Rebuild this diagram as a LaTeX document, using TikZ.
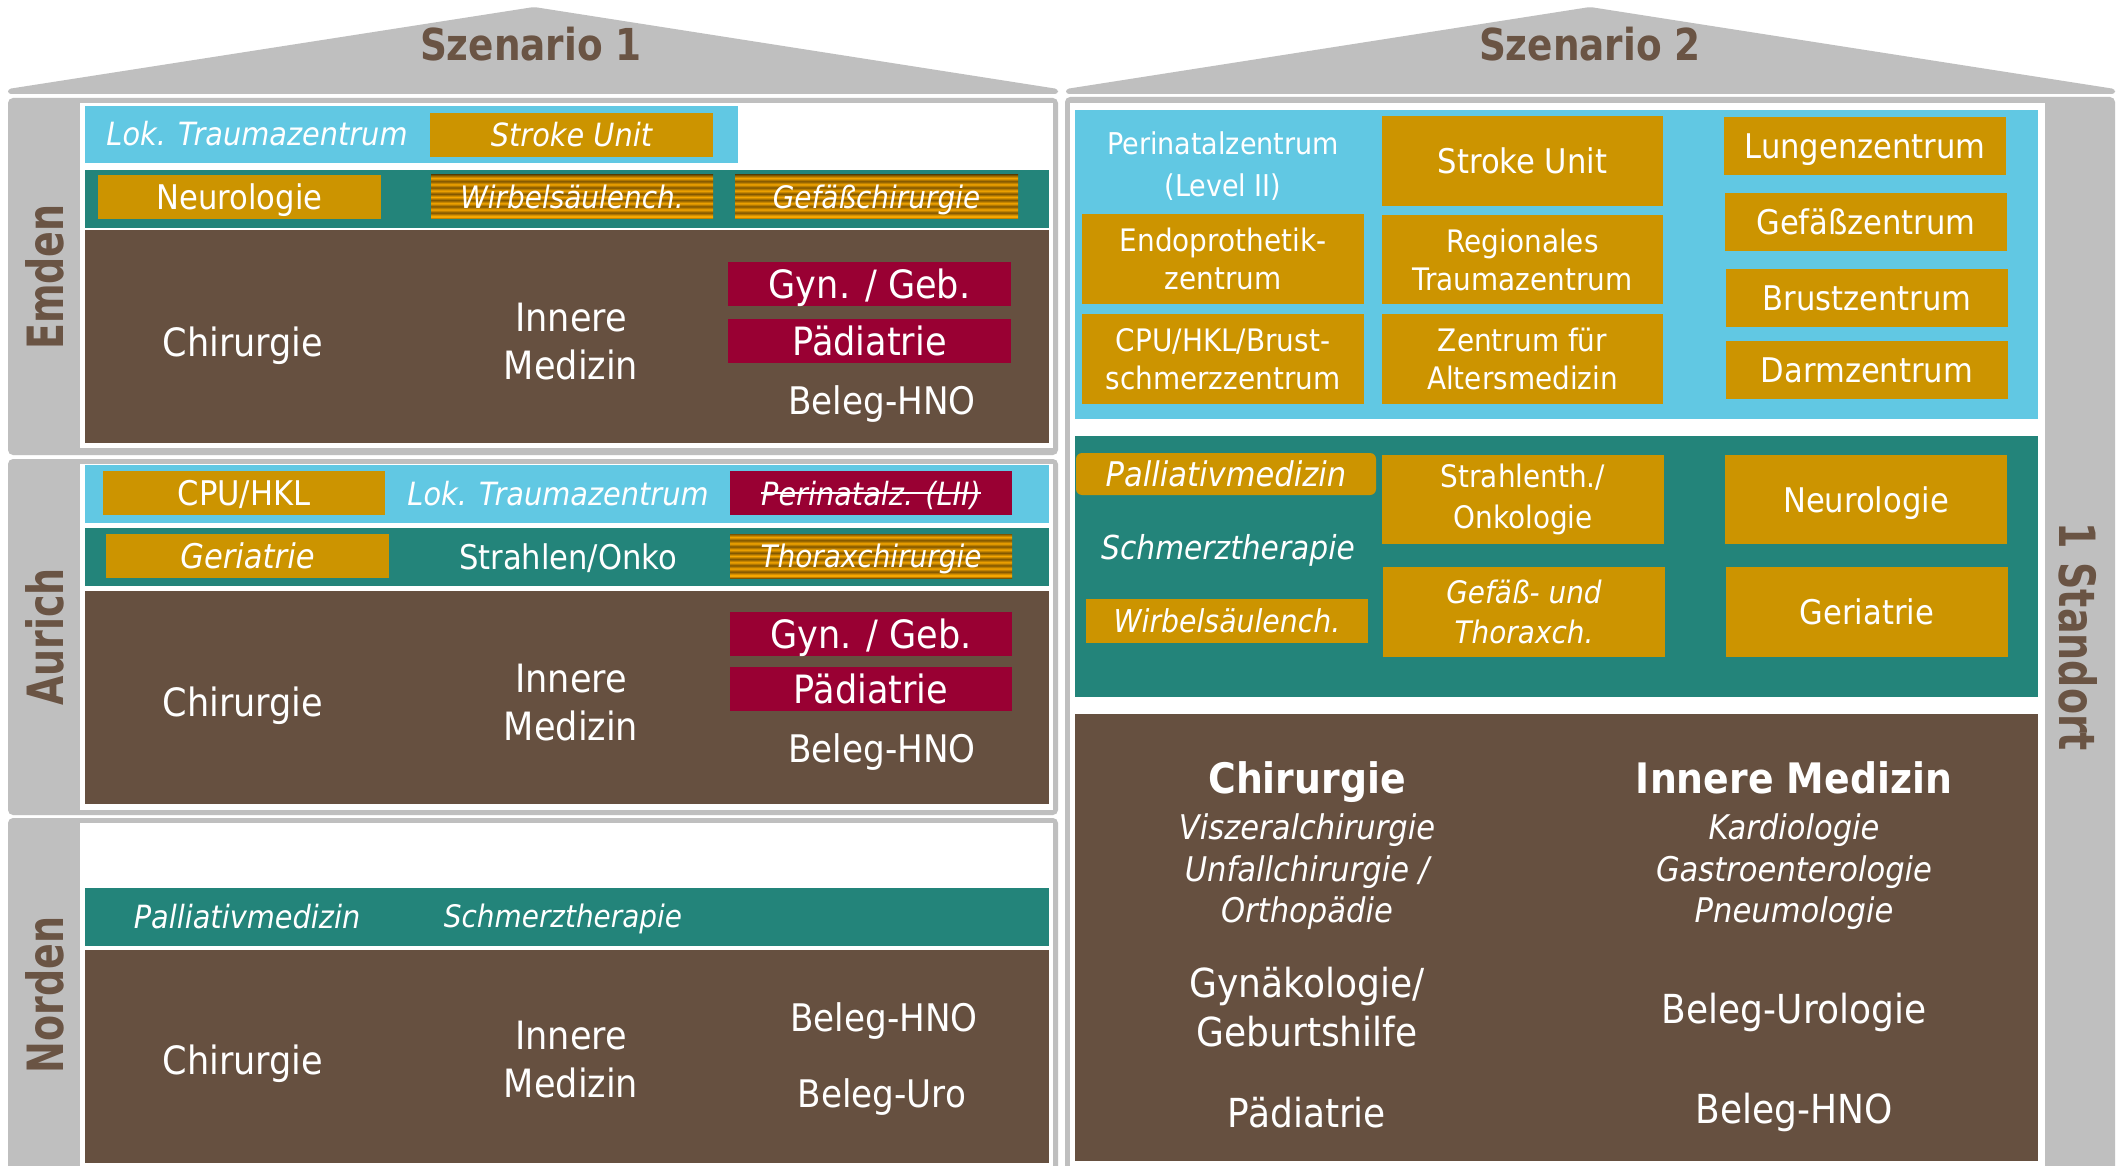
\documentclass[tikz,border=0pt]{standalone}
\usepackage{fontspec}
\setmainfont{DejaVu Sans}[FakeStretch=0.9]
\newfontfamily\lblfont{DejaVu Sans}[FakeStretch=0.76]
\newfontfamily\ttlfont{DejaVu Sans}[FakeStretch=0.85]
\definecolor{cgray}{RGB}{191,191,191}
\definecolor{ccyan}{RGB}{97,200,227}
\definecolor{cteal}{RGB}{35,132,122}
\definecolor{cbrown}{RGB}{102,80,64}
\definecolor{cgold}{RGB}{204,148,0}
\definecolor{ccrim}{RGB}{153,0,51}
\definecolor{lbltxt}{RGB}{106,84,68}
\definecolor{stA}{RGB}{245,166,0}
\definecolor{stB}{RGB}{125,84,0}
\pgfdeclareverticalshading{stripes}{100bp}{color(0bp)=(stB); color(25bp)=(stB); color(27bp)=(stA); color(28.57bp)=(stA); color(32.14bp)=(stB); color(35.71bp)=(stA); color(39.29bp)=(stB); color(42.86bp)=(stA); color(46.43bp)=(stB); color(50bp)=(stA); color(53.57bp)=(stB); color(57.14bp)=(stA); color(60.71bp)=(stB); color(64.29bp)=(stA); color(67.86bp)=(stB); color(71.43bp)=(stA); color(75bp)=(stB); color(100bp)=(stB)}
\newcommand\fz[2]{\fontsize{#1}{#2}\selectfont}
\begin{document}
\begin{tikzpicture}[x=1pt,y=-1pt,
  every node/.style={inner sep=0pt, outer sep=0pt, text=white, align=center},
  one/.style={text height=0.75*#1, text depth=0pt},
  wh/.style 2 args={minimum width=#1, minimum height=#2},
  gbox/.style={fill=cgold},
  rbox/.style={fill=ccrim},
  sbox/.style={shade, shading=stripes},
  lbl/.style={font=\lblfont\bfseries\fz{50}{60}, text=lbltxt},
  ttl/.style={font=\ttlfont\bfseries\fz{44}{50}, text=lbltxt},
  f34/.style={font=\fz{34}{40}},
  f38/.style={font=\fz{38}{48}},
  f39/.style={font=\fz{39}{48}},
  f40/.style={font=\fz{40}{49}},
  i31/.style={font=\itshape\fz{31}{38}},
  i32/.style={font=\itshape\fz{32}{38}},
  i33/.style={font=\itshape\fz{33}{40}},
  i34/.style={font=\itshape\fz{34}{41}},
  t31/.style={font=\fz{31}{38}},
  t30/.style={font=\fz{30}{42}},
  b42/.style={font=\bfseries\fz{42}{50}}
]
\useasboundingbox (0,0) rectangle (2116,1166);
\fill[white] (0,0) rectangle (2116,1166);

% ---------- roofs ----------
\fill[cgray, rounded corners=3] (8,94) -- (8,89) -- (534,7) -- (1058,89) -- (1058,94) -- cycle;
\fill[cgray, rounded corners=3] (1066,94) -- (1066,89) -- (1590,7) -- (2115,89) -- (2115,94) -- cycle;
\node[ttl] (sz1) at (531,44) {Szenario 1};
\node[ttl] (sz2) at (1590,44) {Szenario 2};

% ---------- Emden ----------
\fill[cgray, rounded corners=5] (8,98) rectangle (1058,455);
\fill[white] (80,103) rectangle (1053,448);
\fill[ccyan] (85,106) rectangle (738,163);
\fill[cteal] (85,170) rectangle (1049,228);
\fill[cbrown] (85,230) rectangle (1049,443);
\node[lbl, rotate=90] (emden) at (45,277) {Emden};
\node[i32, one=32] (elok) at (257,134) {Lok. Traumazentrum};
\node[gbox, wh={283}{44}, i32, one=32] (estroke) at (571.5,135) {Stroke Unit};
\node[gbox, wh={283}{44}, f34, one=34] (eneuro) at (239.5,197) {Neurologie};
\node[sbox, wh={282}{44}, i31, one=31] (ewirb) at (572,197) {Wirbelsäulench.};
\node[sbox, wh={283}{44}, i31, one=31] (egef) at (876.5,197) {Gefäßchirurgie};
\node[f39, one=39] (echir) at (243,342) {Chirurgie};
\node[f39] (einn) at (571,342) {Innere\\Medizin};
\node[rbox, wh={283}{44}, f39, one=39] (egyn) at (869.5,284) {Gyn. / Geb.};
\node[rbox, wh={283}{44}, f39, one=39] (epaed) at (869.5,341) {Pädiatrie};
\node[f38, one=38] (ehno) at (882,400) {Beleg-HNO};

% ---------- Aurich ----------
\fill[cgray, rounded corners=5] (8,459) rectangle (1058,815);
\fill[white] (80,464) rectangle (1053,810);
\fill[ccyan] (85,465) rectangle (1049,523);
\fill[cteal] (85,528) rectangle (1049,586);
\fill[cbrown] (85,591) rectangle (1049,804);
\node[lbl, rotate=90] (aurich) at (45,637) {Aurich};
\node[gbox, wh={282}{44}, f34, one=34] (acpu) at (244,493) {CPU/HKL};
\node[i32, one=32] (alok) at (558,493) {Lok. Traumazentrum};
\node[rbox, wh={282}{44}] (aperi) at (871,493) {};
\node[i32, one=32] (aperit) at (871,493) {Perinatalz. (LII)};
\draw[white, line width=2pt] (aperit.west) -- (aperit.east);
\node[gbox, wh={283}{44}, i34, one=34] (ageri) at (247.5,556) {Geriatrie};
\node[f34, one=34] (astrahl) at (568,557) {Strahlen/Onko};
\node[sbox, wh={282}{44}, i31, one=31] (athorax) at (871,556) {Thoraxchirurgie};
\node[f39, one=39] (achir) at (243,702) {Chirurgie};
\node[f39] (ainn) at (571,703) {Innere\\Medizin};
\node[rbox, wh={282}{44}, f39, one=39] (agyn) at (871,634) {Gyn. / Geb.};
\node[rbox, wh={282}{44}, f39, one=39] (apaed) at (871,689) {Pädiatrie};
\node[f38, one=38] (ahno) at (882,748) {Beleg-HNO};

% ---------- Norden ----------
\fill[cgray, rounded corners=5] (8,818) rectangle (1058,1190);
\fill[white] (80,823) rectangle (1053,1190);
\fill[cteal] (85,888) rectangle (1049,946);
\fill[cbrown] (85,950) rectangle (1049,1163);
\node[lbl, rotate=90] (norden) at (45,995) {Norden};
\node[i32, one=32] (npall) at (247,916) {Palliativmedizin};
\node[i31, one=31] (nschm) at (563,916) {Schmerztherapie};
\node[f39, one=39] (nchir) at (243,1060) {Chirurgie};
\node[f39] (ninn) at (571,1060) {Innere\\Medizin};
\node[f38, one=38] (nhno) at (884,1017) {Beleg-HNO};
\node[f38, one=38] (nuro) at (882,1093) {Beleg-Uro};

% ---------- Szenario 2 ----------
\fill[cgray, rounded corners=5] (1065,97) rectangle (2115,1190);
\fill[white] (1070,103) rectangle (2045,1190);
\node[lbl, rotate=-90] (standort) at (2078,637) {1 Standort};
\fill[ccyan] (1075,110) rectangle (2038,419);
\fill[cteal] (1075,436) rectangle (2038,697);
\fill[cbrown] (1075,714) rectangle (2038,1161);

\node[t30] (peri) at (1223,166) {Perinatalzentrum\\(Level II)};
\node[gbox, wh={282}{90}, t31] (endo) at (1223,259) {Endoprothetik-\\zentrum};
\node[gbox, wh={282}{90}, t31] (cpu) at (1223,359) {CPU/HKL/Brust-\\schmerzzentrum};
\node[gbox, wh={281}{90}, f34, one=34] (stroke) at (1522.5,161) {Stroke Unit};
\node[gbox, wh={281}{89}, t31] (regio) at (1522.5,259.5) {Regionales\\Traumazentrum};
\node[gbox, wh={281}{90}, t31] (alters) at (1522.5,359) {Zentrum für\\Altersmedizin};
\node[gbox, wh={282}{58}, f34, one=34] (lunge) at (1865,146) {Lungenzentrum};
\node[gbox, wh={282}{58}, f34, one=34] (gefz) at (1866,222) {Gefäßzentrum};
\node[gbox, wh={282}{58}, f34, one=34] (brust) at (1867,298) {Brustzentrum};
\node[gbox, wh={282}{58}, f34, one=34] (darm) at (1867,370) {Darmzentrum};

\node[gbox, wh={300}{42}, rounded corners=6, i34, one=34] (pall) at (1226,474) {Palliativmedizin};
\node[i33, one=33] (schm) at (1228,547) {Schmerztherapie};
\node[gbox, wh={282}{44}, font=\itshape\fz{31.5}{38}, one=31.5] (wirb) at (1227,621) {Wirbelsäulench.};
\node[gbox, wh={282}{89}, font=\fz{31}{41}] (strahl) at (1523,499.5) {Strahlenth./\\Onkologie};
\node[gbox, wh={282}{90}, font=\itshape\fz{31}{40}] (gefth) at (1524,612) {Gefäß- und\\Thoraxch.};
\node[gbox, wh={282}{89}, f34, one=34] (neuro) at (1866,499.5) {Neurologie};
\node[gbox, wh={282}{90}, f34, one=34] (geri) at (1867,612) {Geriatrie};

\node[b42, one=42] (rchir) at (1307,778) {Chirurgie};
\node[i34, one=34] (rvisz) at (1307,827) {Viszeralchirurgie};
\node[i34, one=34] (runf) at (1307,869) {Unfallchirurgie /};
\node[i34, one=34] (rorth) at (1307,910) {Orthopädie};
\node[b42, one=42] (rinn) at (1794,778) {Innere Medizin};
\node[i34, one=34] (rkard) at (1794,827) {Kardiologie};
\node[i34, one=34] (rgast) at (1794,869) {Gastroenterologie};
\node[i34, one=34] (rpneu) at (1794,910) {Pneumologie};
\node[f40] (rgyn) at (1307,1007) {Gynäkologie/\\Geburtshilfe};
\node[f40, one=40] (ruro) at (1794,1008) {Beleg-Urologie};
\node[f40, one=40] (rpaed) at (1307,1112) {Pädiatrie};
\node[f40, one=40] (rhno) at (1794,1108) {Beleg-HNO};
\end{tikzpicture}
\end{document}
